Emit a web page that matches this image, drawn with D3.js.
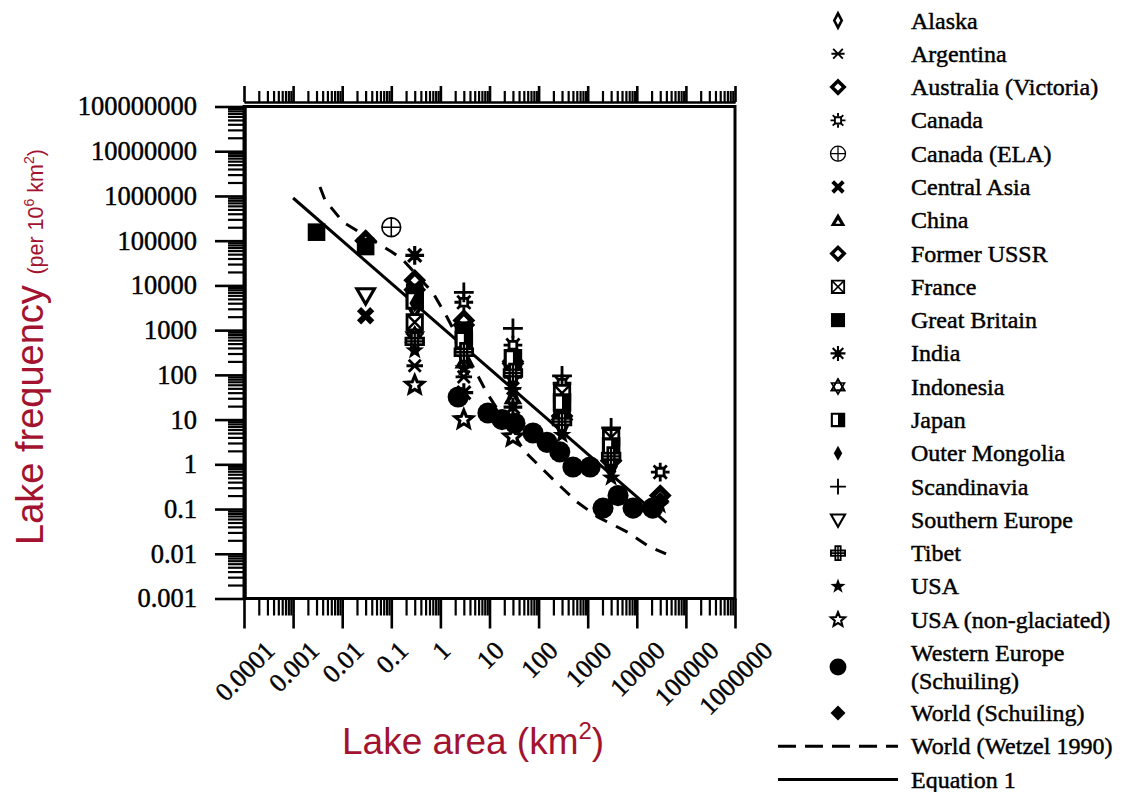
<!DOCTYPE html>
<html><head><meta charset="utf-8">
<script src="https://cdn.jsdelivr.net/npm/d3@7"></script>
<style>body{margin:0;background:#fff}</style>
</head><body>
<svg id="c" width="1127" height="792" xmlns="http://www.w3.org/2000/svg"></svg>
<script>
// ---------- data ----------
const xTickValues = [1e-4, 1e-3, 1e-2, 1e-1, 1, 10, 100, 1000, 1e4, 1e5, 1e6];
const xTickLabels = ["0.0001","0.001","0.01","0.1","1","10","100","1000","10000","100000","1000000"];
const yTickValues = [1e-3, 1e-2, 1e-1, 1, 10, 100, 1000, 1e4, 1e5, 1e6, 1e7, 1e8];
const yTickLabels = ["0.001","0.01","0.1","1","10","100","1000","10000","100000","1000000","10000000","100000000"];

// [lake area km2, lakes per 10^6 km2]
const alaska = [[0.3,3000],[3,450],[30,90],[300,7],[3000,0.9]];
const argentina = [[0.3,160],[3,90],[30,50]];
const australia = [[0.03,100000],[0.3,8000],[3,1300],[30,180],[300,10]];
const canada = [[3,4200],[30,460],[300,65],[30000,0.67]];
const canadaELA = [[0.1,200000]];
const centralAsia = [[0.03,2100]];
const china = [[0.3,1150],[3,200],[30,32]];
const formerUSSR = [[0.3,13000],[3,1650],[30,200],[300,12],[3000,1.2],[30000,0.2]];
const france = [[0.3,1500],[3,800],[30,130],[300,39],[3000,4.0]];
const greatBritain = [[0.003,155000],[0.03,74000],[0.3,7000],[3,1000],[30,150],[300,15],[3000,2.0]];
const india = [[0.3,47000],[3,40],[30,19]];
const indonesia = [[0.3,700]];
const japan = [[0.3,4600],[3,600],[30,235],[300,24],[3000,2.5]];
const outerMongolia = [[0.3,4000],[3,250],[30,70],[300,6],[3000,0.7]];
const scandinavia = [[3,7000],[30,1100],[300,95],[3000,6.5]];
const southernEurope = [[0.03,6000]];
const tibet = [[0.3,560],[3,320],[30,110],[300,9],[3000,1.5]];
const usa = [[0.3,350],[3,140],[30,45],[300,4.5],[3000,0.5],[30000,0.12]];
const usaNonGlaciated = [[0.3,59],[3,10],[30,4.1]];
const westernEurope = [[2.3,32],[9.3,14],[18,10],[33,8.3],[77,5],[148,3.1],[270,1.9],[500,0.87],[1120,0.87],[2050,0.105],[4150,0.2],[8400,0.105],[21000,0.105]];
const worldSchuiling = [[30000,0.15]];

const wetzelArea = [0.00353,0.00447,0.0104,0.103,0.174,0.706,1.36,8.9,52.8,237,605,1620,6300,18600,39400];
const wetzelFreq = [1.58e6,8.1e5,2.6e5,5.6e4,3.7e4,6800,1960,39,1.9,0.38,0.144,0.066,0.031,0.014,0.01];
const equationArea = [0.001, 40000];
const equationFreq = [900000, 0.05];

const seriesNames = ["Alaska","Argentina","Australia (Victoria)","Canada","Canada (ELA)","Central Asia","China","Former USSR","France","Great Britain","India","Indonesia","Japan","Outer Mongolia","Scandinavia","Southern Europe","Tibet","USA","USA (non-glaciated)","Western Europe|(Schuiling)","World (Schuiling)"];
const seriesShapes = ["alaska","argentina","diamondOpen","canada","ela","cross","china","diamondOpen","france","square","india","indonesia","japan","mongolia","plus","triDown","tibet","star","starOpen","circle","diamond"];
const seriesData = [alaska,argentina,australia,canada,canadaELA,centralAsia,china,formerUSSR,france,greatBritain,india,indonesia,japan,outerMongolia,scandinavia,southernEurope,tibet,usa,usaNonGlaciated,westernEurope,worldSchuiling];

// ---------- setup ----------
const svg = d3.select("#c");
const SERIF = "'Liberation Serif','Times New Roman',Times,serif";
const SANS = "'Liberation Sans',Arial,Helvetica,sans-serif";
const RED = "#a3132f";
const L = 244, R = 735, T = 106.5, B = 598.5;
const x = d3.scaleLog().domain([1e-4, 1e6]).range([L, R]);
const y = d3.scaleLog().domain([1e-3, 1e8]).range([B, T]);

function minors(lo, hi){ const a=[]; for(let k=lo;k<hi;k++) for(let m=2;m<=9;m++) a.push(m*Math.pow(10,k)); return a; }
const xMinor = minors(-4, 6), yMinor = minors(-3, 8);

function styleAxis(g, sw){
  g.selectAll("path.domain").attr("stroke","#000").attr("stroke-width",2);
  g.selectAll(".tick line").attr("stroke","#000").attr("stroke-width",sw);
}
function inkText(sel){ return sel.attr("fill","#000").attr("stroke","#000").attr("stroke-width",0.45); }
// left axis
const gl = svg.append("g").attr("transform",`translate(${L+1},0)`)
  .call(d3.axisLeft(y).tickValues(yTickValues).tickSize(30).tickSizeOuter(0).tickPadding(18)
    .tickFormat((d,i)=>yTickLabels[i]));
styleAxis(gl, 2.6);
inkText(gl.selectAll("text").attr("font-family",SERIF).attr("font-size",26.5));
const glm = svg.append("g").attr("transform",`translate(${L+1},0)`)
  .call(d3.axisLeft(y).tickValues(yMinor).tickSize(17).tickSizeOuter(0).tickFormat(""));
styleAxis(glm, 2.2);
// bottom axis
const gb = svg.append("g").attr("transform",`translate(0,${B})`)
  .call(d3.axisBottom(x).tickValues(xTickValues).tickSize(30).tickSizeOuter(0).tickFormat(""));
styleAxis(gb, 2.6);
const gbm = svg.append("g").attr("transform",`translate(0,${B})`)
  .call(d3.axisBottom(x).tickValues(xMinor).tickSize(17).tickSizeOuter(0).tickFormat(""));
styleAxis(gbm, 2.2);
// top axis
const TOPY = 102;
const gt = svg.append("g").attr("transform",`translate(0,${TOPY})`)
  .call(d3.axisTop(x).tickValues(xTickValues).tickSize(16).tickSizeOuter(0).tickFormat(""));
styleAxis(gt, 2.6);
const gtm = svg.append("g").attr("transform",`translate(0,${TOPY})`)
  .call(d3.axisTop(x).tickValues(xMinor).tickSize(11).tickSizeOuter(0).tickFormat(""));
styleAxis(gtm, 2.2);

// x tick labels (rotated)
xTickValues.forEach((v,i)=>{
  const t = inkText(svg.append("text").text(xTickLabels[i]).attr("font-family",SERIF).attr("font-size",26)
    .attr("text-anchor","middle").attr("dominant-baseline","central"));
  const w = t.node().getComputedTextLength();
  const cy = 640 + (w/2 + 8.5)*0.7071;
  t.attr("transform",`translate(${x(v)+1},${cy}) rotate(-45)`);
});

// box
svg.append("rect").attr("x",L).attr("y",T).attr("width",R-L).attr("height",B-T)
  .attr("fill","none").attr("stroke","#000").attr("stroke-width",3);

// ---------- markers ----------
function starPath(ro, ri){
  let p=""; for(let i=0;i<10;i++){ const r=i%2?ri:ro; const a=-Math.PI/2+i*Math.PI/5;
    p+=(i?"L":"M")+(r*Math.cos(a)).toFixed(2)+","+(r*Math.sin(a)).toFixed(2);} return p+"Z";
}
function marker(parent, shape, cx, cy, s, k){
  const g = parent.append("g").attr("transform",`translate(${cx},${cy}) scale(${s})`);
  const P = (d,fill,sw)=>g.append("path").attr("d",d).attr("fill",fill).attr("stroke",sw?"#000":"none").attr("stroke-width",(sw||0)*k);
  switch(shape){
    case "alaska": P("M0,-8L4.2,0L0,8L-4.2,0Z","#fff",2.4); break;
    case "mongolia": P("M0,-8.5L4.8,0L0,8.5L-4.8,0Z","#000",0); break;
    case "argentina": P("M-7.5,0H7.5M-5.5,-5.5L5.5,5.5M-5.5,5.5L5.5,-5.5","none",1.7); break;
    case "diamondOpen": P("M0,-7L7,0L0,7L-7,0Z","#fff",3.2); break;
    case "diamond": P("M0,-8.5L8.5,0L0,8.5L-8.5,0Z","#000",0); break;
    case "canada": {
      let d=""; for(let i=0;i<8;i++){const a=i*Math.PI/4; d+=`M${(4.5*Math.cos(a)).toFixed(2)},${(4.5*Math.sin(a)).toFixed(2)}L${(8.5*Math.cos(a)).toFixed(2)},${(8.5*Math.sin(a)).toFixed(2)}`;}
      P(d,"none",1.7); P("M-3.5,-3.5H3.5V3.5H-3.5Z","#fff",1.7); break; }
    case "ela": g.append("circle").attr("r",8.5).attr("fill","#fff").attr("stroke","#000").attr("stroke-width",1.5);
      g.append("path").attr("d","M-8.5,0H8.5M0,-8.5V8.5").attr("stroke","#000").attr("stroke-width",1.4); break;
    case "cross": P("M-6,-6L6,6M-6,6L6,-6","none",3.6); break;
    case "china": P("M0,-8L8.5,6.5H-8.5Z","#000",0); P("M0,-0.5L2.8,4H-2.8Z","#fff",0); break;
    case "france": P("M-7,-7H7V7H-7Z","#fff",1.7); P("M-7,-7L7,7M-7,7L7,-7","none",1.5); break;
    case "square": P("M-8,-8H8V8H-8Z","#000",0); break;
    case "india": {
      let d=""; for(let i=0;i<8;i++){const a=i*Math.PI/4; d+=`M0,0L${(8.5*Math.cos(a)).toFixed(2)},${(8.5*Math.sin(a)).toFixed(2)}`;}
      P(d,"none",1.9); g.append("circle").attr("r",3.8).attr("fill","#000"); break; }
    case "indonesia": P("M0,-8.5L7.4,4.25H-7.4Z M0,8.5L7.4,-4.25H-7.4Z","#fff",1.5);
      P("M0,-8.5L7.4,4.25H-7.4Z","none",1.5); break;
    case "japan": P("M-7,-7H7V7H-7Z","#fff",1.9); P("M0,-7H7V7H0Z","#000",0); break;
    case "plus": P("M-9,0H9M0,-9V9","none",1.7); break;
    case "triDown": P("M-8,-6H8L0,8Z","#fff",1.9); break;
    case "tibet": P("M-3,-8H3V-3H8V3H3V8H-3V3H-8V-3H-3Z","#fff",1.7); P("M-3,-3H3V3H-3Z M-8,0H8 M0,-8V8","none",1.4); break;
    case "star": P(starPath(9,3.6),"#000",0); break;
    case "starOpen": P(starPath(8.5,3.8),"#fff",1.9); break;
    case "circle": g.append("circle").attr("r",9.6).attr("fill","#000"); break;
  }
}

// ---------- lines ----------
const line = d3.line().x(d=>x(d[0])).y(d=>y(d[1]));
svg.append("path").datum(wetzelArea.map((a,i)=>[a,wetzelFreq[i]])).attr("d",line)
  .attr("fill","none").attr("stroke","#000").attr("stroke-width",3).attr("stroke-dasharray","13,10");
svg.append("path").datum(equationArea.map((a,i)=>[a,equationFreq[i]])).attr("d",line)
  .attr("fill","none").attr("stroke","#000").attr("stroke-width",3);

// ---------- points ----------
const pts = svg.append("g");
seriesData.forEach((data,si)=>{
  data.forEach(d=>marker(pts, seriesShapes[si], x(d[0]), y(d[1]), 1.1, 1.5));
});

// ---------- legend ----------
const leg = svg.append("g");
const SYMX = 838, TXTX = 911, ROW0 = 20.5, DY = 33.29, EXTRA = 26.7;
seriesNames.forEach((nm,i)=>{
  const yc = ROW0 + i*DY + (i>19 ? EXTRA : 0);
  const parts = nm.split("|");
  if (parts.length===2){
    parts.forEach((p,j)=>inkText(leg.append("text").attr("x",TXTX).attr("y",yc+8+j*28).text(p)
      .attr("font-family",SERIF).attr("font-size",24)));
    marker(leg, seriesShapes[i], SYMX, yc+14, 0.88, 1.2);
  } else {
    inkText(leg.append("text").attr("x",TXTX).attr("y",yc+8).text(nm).attr("font-family",SERIF).attr("font-size",24));
    marker(leg, seriesShapes[i], SYMX, yc, 0.88, 1.25);
  }
});
const yW = ROW0 + 21*DY + EXTRA, yE = ROW0 + 22*DY + EXTRA;
leg.append("line").attr("x1",778).attr("x2",898).attr("y1",yW).attr("y2",yW)
  .attr("stroke","#000").attr("stroke-width",3).attr("stroke-dasharray","18,9");
inkText(leg.append("text").attr("x",TXTX).attr("y",yW+8).text("World (Wetzel 1990)").attr("font-family",SERIF).attr("font-size",24));
leg.append("line").attr("x1",778).attr("x2",898).attr("y1",yE).attr("y2",yE)
  .attr("stroke","#000").attr("stroke-width",3);
inkText(leg.append("text").attr("x",TXTX).attr("y",yE+8).text("Equation 1").attr("font-family",SERIF).attr("font-size",24));

// ---------- axis titles ----------
const xt = svg.append("text").attr("x",342).attr("y",754).attr("font-family",SANS).attr("font-size",37).attr("fill",RED);
xt.append("tspan").text("Lake area (km");
xt.append("tspan").text("2").attr("font-size",24).attr("dy",-15);
xt.append("tspan").text(")").attr("dy",15);

const yt = svg.append("text").attr("transform","translate(43,545) rotate(-90)").attr("font-family",SANS).attr("font-size",38).attr("fill",RED);
yt.append("tspan").text("Lake frequency ");
yt.append("tspan").text("(per 10").attr("font-size",21.5);
yt.append("tspan").text("6").attr("font-size",14).attr("dy",-9);
yt.append("tspan").text(" km").attr("font-size",21.5).attr("dy",9);
yt.append("tspan").text("2").attr("font-size",14).attr("dy",-9);
yt.append("tspan").text(")").attr("font-size",21.5).attr("dy",9);
</script>
</body></html>
